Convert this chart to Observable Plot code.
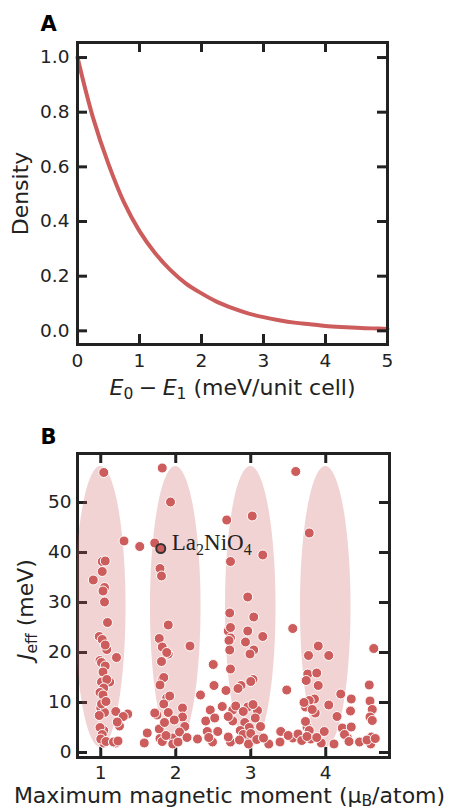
<!DOCTYPE html>
<html><head><meta charset="utf-8">
<script src="https://cdn.jsdelivr.net/npm/d3@7"></script>
<script src="https://cdn.jsdelivr.net/npm/@observablehq/plot@0.6"></script>
<style>
body{margin:0;background:#fff;}
#wrap{width:449px;height:811px;overflow:hidden;}
#wrap svg{display:block;overflow:visible;}
</style></head><body><div id="wrap"></div>
<script>
// ---------- Panel A data ----------
const energyGap = [0,0.25,0.5,0.75,1,1.25,1.5,1.75,2,2.25,2.5,2.75,3,3.25,3.5,3.75,4,4.25,4.5,4.75,5];
const density   = [1.00,0.78,0.61,0.47,0.365,0.285,0.222,0.173,0.137,0.106,0.083,0.064,0.050,0.039,0.030,0.024,0.018,0.014,0.011,0.009,0.007];
const xTicksA = [0,1,2,3,4,5];
const yTicksA = [0,0.2,0.4,0.6,0.8,1.0];

// ---------- Panel B data ----------
const maxMoment = [
 1.04,1.02,1.06,1.02,0.90,1.05,1.03,1.05,1.09,0.98,1.02,1.08,1.06,1.21,0.99,1.01,1.06,1.03,1.12,1.01,1.08,1.04,0.99,1.03,1.00,1.05,1.01,1.07,0.98,1.20,1.36,1.30,1.25,1.22,1.04,0.99,1.02,1.04,1.00,1.07,1.20,1.17,1.23,1.31,1.52,1.72,
 1.82,1.93,1.79,1.81,1.90,1.78,1.82,1.90,1.88,2.19,1.81,1.82,1.84,1.79,1.88,1.92,1.84,2.09,1.75,1.72,1.90,2.09,2.12,1.78,1.62,1.58,1.79,1.96,1.96,1.82,1.87,2.03,2.29,2.05,1.85,1.98,2.15,
 2.33,2.50,2.51,2.46,2.40,2.52,2.42,2.56,2.49,2.44,2.62,2.67,
 2.68,3.02,3.16,2.73,2.96,2.72,3.04,2.70,2.73,2.73,2.71,2.96,2.93,3.16,3.04,2.99,2.72,2.73,3.03,3.00,2.87,2.83,2.76,2.80,2.96,2.90,3.09,3.03,2.76,2.70,3.06,2.92,2.98,3.13,2.86,2.96,2.90,3.00,2.73,2.70,2.97,2.85,3.08,3.24,3.17,
 3.60,3.56,3.48,3.40,3.39,3.56,3.50,3.63,3.68,
 3.78,3.90,4.04,3.77,3.76,3.88,3.74,3.90,3.85,3.78,3.73,3.71,4.04,3.86,3.82,3.75,3.73,3.78,3.98,3.94,3.80,3.75,3.88,4.11,4.15,4.20,4.22,4.34,4.33,4.34,4.29,4.25,4.31,4.45,
 4.64,4.58,4.59,4.62,4.59,4.62,4.61,4.60,4.55,4.66
];
const jeff = [
 56.0,38.2,38.3,36.2,34.5,33.0,32.3,30.1,26.0,23.2,22.6,20.6,21.5,19.0,18.4,18.0,17.3,16.1,14.1,14.1,14.6,12.9,12.0,11.5,8.9,8.0,9.7,10.2,7.4,8.2,7.7,7.2,5.3,6.1,4.4,5.0,3.6,1.9,2.7,2.2,1.9,2.1,2.3,42.3,41.2,41.9,
 56.9,50.1,36.8,35.3,25.5,22.8,21.1,19.7,20.0,21.3,18.2,14.7,15.0,13.5,10.9,11.3,9.7,8.9,7.5,7.9,8.0,7.1,5.2,4.7,3.9,1.9,2.8,2.9,1.7,2.2,3.4,2.1,2.7,4.1,6.0,6.5,3.0,
 11.5,17.6,13.4,8.5,6.3,6.9,4.2,4.2,2.1,3.0,9.2,12.4,
 46.5,47.3,39.5,38.2,31.1,27.9,27.1,24.3,25.0,22.9,22.4,24.3,22.1,23.2,20.5,19.7,20.5,16.7,14.6,14.2,13.4,12.8,8.5,9.3,9.1,8.2,8.4,9.6,6.3,7.2,6.9,6.0,5.0,5.2,4.4,2.9,3.6,3.8,2.1,3.1,1.7,2.5,2.6,1.7,2.9,
 56.2,24.8,12.5,4.2,2.1,2.9,3.4,3.7,2.4,
 43.9,21.3,19.4,19.4,15.7,15.9,14.4,13.4,10.7,10.4,9.1,10.0,9.5,7.9,8.6,5.1,6.2,4.4,4.2,1.9,2.7,3.2,3.0,1.7,7.2,11.7,4.9,10.7,8.3,5.1,2.9,3.6,2.2,2.1,
 20.8,13.5,10.3,8.6,7.1,6.4,3.1,1.7,2.5,2.8
];
const highlightMoment = [1.80];
const highlightJeff = [40.8];
const highlightName = ["La2NiO4"];
const ellipseCenters = [1,2,3,4];
const ellipseMid = 29.1, ellipseHalfHeight = 28.1, ellipseHalfWidth = 0.337;
const xTicksB = [1,2,3,4];
const yTicksB = [0,10,20,30,40,50];

// ---------- styles ----------
const RED = "#cd5c5c";
const INK = "#222";
const FONT = "DejaVu Sans";

// ---------- Panel A ----------
const curveA = energyGap.map((e, i) => ({e, d: density[i]}));
const mA = {left: 77, right: 62, top: 42, bottom: 56}, WA = 449, HA = 400;
const fwA = WA - mA.left - mA.right, fhA = HA - mA.top - mA.bottom;

const plotA = Plot.plot({
  width: WA, height: HA,
  marginLeft: mA.left, marginRight: mA.right, marginTop: mA.top, marginBottom: mA.bottom,
  style: {fontFamily: FONT, fontSize: "18.5px", color: INK, background: "transparent", overflow: "visible"},
  x: {domain: [0, 5]},
  y: {domain: [-0.05, 1.055]},
  marks: [
    Plot.line(curveA, {x: "e", y: "d", stroke: RED, strokeWidth: 4, curve: "catmull-rom"}),
    Plot.frame({stroke: INK, strokeWidth: 3}),
    Plot.tickY(yTicksA, {y: d => d, insetRight: fwA - 10, stroke: INK, strokeWidth: 3}),
    Plot.tickY(yTicksA, {y: d => d, insetLeft: fwA - 10, stroke: INK, strokeWidth: 3}),
    Plot.tickX(xTicksA, {x: d => d, insetTop: fhA - 10, stroke: INK, strokeWidth: 3}),
    Plot.tickX(xTicksA, {x: d => d, insetBottom: fhA - 10, stroke: INK, strokeWidth: 3}),
    Plot.axisX({ticks: xTicksA, tickSize: 0, tickPadding: 9, label: null, tickFormat: d => String(d), fontSize: 18.5}),
    Plot.axisY({ticks: yTicksA, tickSize: 0, tickPadding: 8, label: null, tickFormat: d => d.toFixed(1), fontSize: 18.5}),
    Plot.text(["A"], {text: d => d, frameAnchor: "top-left", textAnchor: "start", lineAnchor: "bottom", dx: -37, dy: -12, fontSize: 21, fontWeight: "bold", fill: "#000"}),
    Plot.text(["Density"], {text: d => d, frameAnchor: "left", rotate: -90, textAnchor: "middle", lineAnchor: "bottom", dx: -50, fontSize: 22, fill: INK}),
    Plot.text(["__XLABEL_A__"], {text: d => d, frameAnchor: "bottom", textAnchor: "middle", lineAnchor: "bottom", dy: 50, fontSize: 22, fill: INK})
  ]
});

// ---------- Panel B ----------
const pts = maxMoment.map((m, i) => ({m, j: jeff[i]}));
const hl = highlightMoment.map((m, i) => ({m, j: highlightJeff[i], name: highlightName[i]}));
const ell = [];
for (const c of ellipseCenters) {
  for (let k = 0; k <= 80; k++) {
    const t = Math.PI * k / 80;
    ell.push({c, y: ellipseMid + ellipseHalfHeight * Math.cos(t),
              x1: c - ellipseHalfWidth * Math.sin(t), x2: c + ellipseHalfWidth * Math.sin(t)});
  }
}
const mB = {left: 77, right: 60, top: 53, bottom: 54}, WB = 449, HB = 411;
const fwB = WB - mB.left - mB.right, fhB = HB - mB.top - mB.bottom;

const plotB = Plot.plot({
  width: WB, height: HB,
  marginLeft: mB.left, marginRight: mB.right, marginTop: mB.top, marginBottom: mB.bottom,
  style: {fontFamily: FONT, fontSize: "18.5px", color: INK, background: "transparent", overflow: "visible"},
  x: {domain: [0.69, 4.85]},
  y: {domain: [-1, 59.8]},
  marks: [
    Plot.frame({stroke: INK, strokeWidth: 3}),
    Plot.tickY(yTicksB, {y: d => d, insetRight: fwB - 10, stroke: INK, strokeWidth: 3}),
    Plot.tickY(yTicksB, {y: d => d, insetLeft: fwB - 10, stroke: INK, strokeWidth: 3}),
    Plot.tickX(xTicksB, {x: d => d, insetTop: fhB - 10, stroke: INK, strokeWidth: 3}),
    Plot.tickX(xTicksB, {x: d => d, insetBottom: fhB - 10, stroke: INK, strokeWidth: 3}),
    Plot.areaX(ell, {y: "y", x1: "x1", x2: "x2", z: "c", fill: RED, fillOpacity: 0.27, clip: true}),
    Plot.dot(pts, {x: "m", y: "j", r: 5, fill: RED, stroke: "white", strokeWidth: 1}),
    Plot.dot(hl, {x: "m", y: "j", r: 4.5, fill: RED, stroke: "#333", strokeWidth: 2}),
    Plot.text(hl, {x: "m", y: "j", text: "name", dx: 11, dy: 1, textAnchor: "start", lineAnchor: "bottom", fontFamily: "Liberation Serif", fontSize: 23, fill: INK}),
    Plot.axisX({ticks: xTicksB, tickSize: 0, tickPadding: 8, label: null, tickFormat: d => String(d), fontSize: 18.5}),
    Plot.axisY({ticks: yTicksB, tickSize: 0, tickPadding: 6, label: null, tickFormat: d => String(d), fontSize: 18.5}),
    Plot.text(["B"], {text: d => d, frameAnchor: "top-left", textAnchor: "start", lineAnchor: "bottom", dx: -37, dy: -10, fontSize: 21, fontWeight: "bold", fill: "#000"}),
    Plot.text(["__YLABEL_B__"], {text: d => d, frameAnchor: "left", rotate: -90, textAnchor: "middle", lineAnchor: "bottom", dx: -45, dy: 4, fontSize: 22, fill: INK}),
    Plot.text(["__XLABEL_B__"], {text: d => d, frameAnchor: "bottom", textAnchor: "middle", lineAnchor: "bottom", dx: -4, dy: 45, fontSize: 22, fill: INK})
  ]
});

// ---------- rich text (italics / subscripts) ----------
const NS = "http://www.w3.org/2000/svg";
function setRich(svg, placeholder, segs, subSize, shift) {
  for (const t of svg.querySelectorAll("text")) {
    if (t.textContent !== placeholder) continue;
    t.textContent = "";
    let down = false;
    for (const s of segs) {
      const ts = document.createElementNS(NS, "tspan");
      ts.textContent = s.t;
      if (s.italic) ts.setAttribute("font-style", "italic");
      if (s.sub) {
        ts.setAttribute("font-size", subSize);
        if (!down) { ts.setAttribute("dy", shift); down = true; }
      } else if (down) { ts.setAttribute("dy", -shift); down = false; }
      t.appendChild(ts);
    }
  }
}
setRich(plotA, "__XLABEL_A__", [
  {t: "E", italic: true}, {t: "0", sub: true}, {t: "\u2005−\u2005"},
  {t: "E", italic: true}, {t: "1", sub: true}, {t: " (meV/unit cell)"}
], 15.5, 4.5);
setRich(plotB, "__YLABEL_B__", [
  {t: "J", italic: true}, {t: "eff", sub: true}, {t: " (meV)"}
], 15.5, 4.5);
setRich(plotB, "__XLABEL_B__", [
  {t: "Maximum magnetic moment (μ"}, {t: "B", sub: true}, {t: "/atom)"}
], 15.5, 3.5);
setRich(plotB, "La2NiO4", [
  {t: "La"}, {t: "2", sub: true}, {t: "NiO"}, {t: "4", sub: true}
], 16, 5);

document.getElementById("wrap").append(plotA, plotB);
</script>
</body></html>
